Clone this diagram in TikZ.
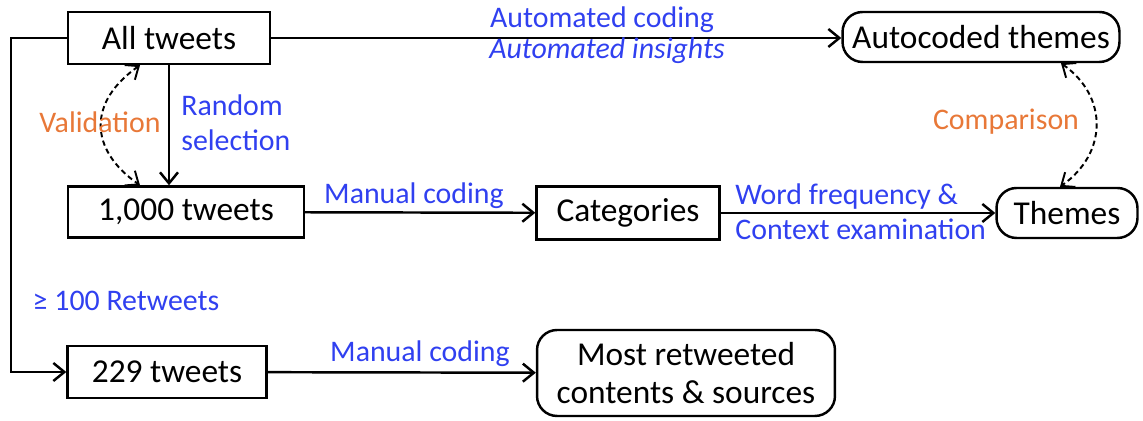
\documentclass[tikz,border=0pt]{standalone}
\usepackage{fontspec}
\setmainfont{Carlito}
\usepackage{xcolor}
\usetikzlibrary{positioning,arrows.meta}
\definecolor{noteblue}{RGB}{48,64,240}
\definecolor{noteorange}{RGB}{232,120,56}
\tikzset{
	stage/.style={draw, line width=1.4pt, font=\fontsize{19}{22}\selectfont, inner sep=0pt, fill=white},
	result/.style={stage, rounded corners=4mm, align=center},
	flow/.style={line width=1.4pt, -{Straight Barb[length=2.2mm,width=3.6mm]}},
	check/.style={line width=1.1pt, dash pattern=on 3pt off 2pt, {Straight Barb[length=2.2mm,width=3.6mm]}-{Straight Barb[length=2.2mm,width=3.6mm]}},
	note/.style={text=noteblue, font=\fontsize{17}{20}\selectfont, align=left, inner sep=0pt},
	remark/.style={text=noteorange, font=\fontsize{17}{20}\selectfont, inner sep=0pt}
}

\begin{document}
\begin{tikzpicture}[x=0.02cm, y=0.02cm]
	\useasboundingbox (0,0) rectangle (1143,421);

	\node[stage, minimum width=4.04cm, minimum height=1.04cm] (all-tweets) at (169,383) {All tweets};
	\node[result, minimum width=5.54cm, minimum height=1.0cm] (autocoded) at (981,384) {Autocoded themes};
	\node[stage, minimum width=4.72cm, minimum height=1.02cm] (sample-tweets) at (186,209) {1,000 tweets};
	\node[stage, minimum width=3.66cm, minimum height=1.06cm] (categories) at (628,208) {Categories};
	\node[result, minimum width=2.82cm, minimum height=1.0cm] (themes) at (1067,208) {Themes};
	\node[stage, minimum width=3.98cm, minimum height=1.04cm] (top-tweets) at (167,49) {229 tweets};
	\node[result, minimum width=5.96cm, minimum height=1.72cm] (most-retweeted) at (686,48) {Most retweeted\\contents \& sources};

	\draw[flow] (all-tweets.east) -- (autocoded.west |- all-tweets.east);
	\draw[flow] (all-tweets.south) -- (all-tweets.south |- sample-tweets.north);
	\draw[flow] (sample-tweets) -- (categories);
	\draw[flow] (categories) -- (themes);
	\draw[flow] (all-tweets.west) -- ++(-56,0) |- (top-tweets.west);
	\draw[flow] (top-tweets) -- (most-retweeted);

	\draw[check] ([xshift=-0.58cm]all-tweets.south) to[out=215, in=145, looseness=1.35] ([xshift=-0.92cm]sample-tweets.north);
	\draw[check] ([xshift=1.6cm]autocoded.south) to[out=-35, in=35, looseness=1.2] ([xshift=-0.14cm]themes.north);

	\node[note] (auto-coding) at (602,401) {Automated coding};
	\node[note, font=\fontsize{17}{20}\selectfont\itshape] (auto-insights) at (607,370) {Automated insights};
	\node[remark] (validation) at (100,299) {Validation};
	\node[note, anchor=west] (random) at (181,298) {Random\\selection};
	\node[note] (manual-a) at (414,225) {Manual coding};
	\node[note, anchor=west] (word-freq) at (735,209) {Word frequency \&\\Context examination};
	\node[remark] (comparison) at (1006,299) {Comparison};
	\node[note] (threshold) at (126,120) {≥ 100 Retweets};
	\node[note] (manual-b) at (420,67) {Manual coding};
\end{tikzpicture}
\end{document}
